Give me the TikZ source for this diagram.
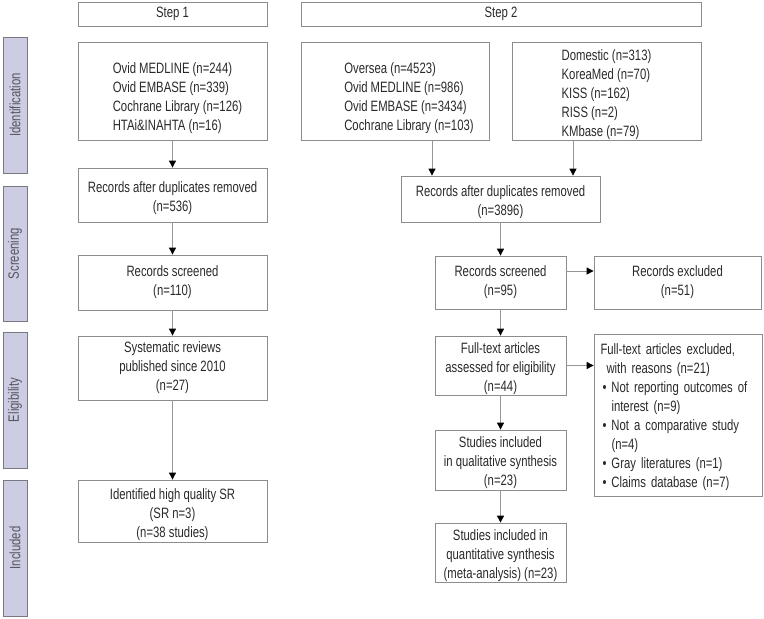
\documentclass[tikz,border=0pt]{standalone}
\usepackage{fontspec}
\setmainfont[FakeStretch=0.755]{Liberation Sans}
\usetikzlibrary{arrows.meta}
\definecolor{boxgray}{RGB}{140,140,140}
\definecolor{linegray}{RGB}{150,150,150}
\definecolor{txt}{RGB}{42,42,42}
\definecolor{sidefill}{RGB}{204,204,226}
\definecolor{sidegray}{RGB}{120,120,130}
\definecolor{sidetxt}{RGB}{85,85,95}
\tikzset{
  plain/.style={draw=boxgray, line width=0.8pt, fill=white, text=txt, align=center,
    inner sep=0pt, font=\fontsize{15}{19}\selectfont},
  box/.style={plain, execute at begin node={\rule{0pt}{15pt}}},
  side/.style={draw=sidegray, line width=0.8pt, fill=sidefill, text=sidetxt, rotate=90,
    minimum width=136, minimum height=24, inner sep=0pt, font=\fontsize{15}{19}\selectfont},
  arr/.style={draw=linegray, line width=0.9pt, -{Triangle[length=7pt,width=7pt,color=black]}}
}
\begin{document}
\begin{tikzpicture}[x=1pt,y=-1pt]
\useasboundingbox (0,0) rectangle (764,619);
% headers
\node[plain, minimum width=189, minimum height=24] (st1) at (172.5,14) {Step 1};
\node[plain, minimum width=400, minimum height=24] (st2) at (501,14) {Step 2};
% sidebars
\node[side] (sid) at (15,105) {Identification};
\node[side, minimum width=135] (sscr) at (15,253.5) {Screening};
\node[side] (selig) at (15,400) {Eligibility};
\node[side] (sinc) at (15,548) {Included};
% step 1
\node[box, align=left, minimum width=189, minimum height=98] (a1) at (172.5,91)
  {\rule{0pt}{25pt}\hspace*{10pt}Ovid MEDLINE (n=244)\\\hspace*{10pt}Ovid EMBASE (n=339)\\\hspace*{10pt}Cochrane Library (n=126)\\\hspace*{10pt}HTAi\&INAHTA (n=16)};
\node[box, minimum width=189, minimum height=54] (a2) at (172.5,195)
  {\rule{0pt}{18pt}Records after duplicates removed\\(n=536)};
\node[box, minimum width=189, minimum height=55] (a3) at (172.5,282.5)
  {Records screened\\(n=110)};
\node[box, minimum width=189, minimum height=64] (a4) at (172.5,368)
  {Systematic reviews\\published since 2010\\(n=27)};
\node[box, minimum width=189, minimum height=62] (a5) at (172.5,511)
  {\rule{0pt}{18pt}Identified high quality SR\\(SR n=3)\\(n=38 studies)};
\draw[arr] (a1) -- (a2);
\draw[arr] (a2) -- (a3);
\draw[arr] (a3) -- (a4);
\draw[arr] (a4) -- (a5);
% step 2
\node[box, align=left, minimum width=188, minimum height=98] (b1) at (395,91)
  {\rule{0pt}{25pt}\hspace*{28pt}Oversea (n=4523)\\\hspace*{28pt}Ovid MEDLINE (n=986)\\\hspace*{28pt}Ovid EMBASE (n=3434)\\\hspace*{28pt}Cochrane Library (n=103)};
\node[box, align=left, minimum width=189, minimum height=98] (b2) at (606.5,91)
  {\rule{0pt}{18pt}Domestic (n=313)\\KoreaMed (n=70)\\KISS (n=162)\\RISS (n=2)\\KMbase (n=79)\hspace*{8pt}};
\node[box, minimum width=199, minimum height=46] (b3) at (500.5,199)
  {\rule{0pt}{18pt}Records after duplicates removed\\(n=3896)};
\node[box, minimum width=131, minimum height=53] (b4) at (500.5,282.5)
  {Records screened\\(n=95)};
\node[box, minimum width=167, minimum height=53] (b5) at (677.5,282.5)
  {Records excluded\\(n=51)};
\node[box, minimum width=131, minimum height=59] (b6) at (500.5,365.5)
  {\rule{0pt}{17pt}Full-text articles\\assessed for eligibility\\(n=44)};
\node[box, text width=155, inner xsep=6.5pt, minimum height=162, align=left] (b7) at (678,415)
  {Full-text articles excluded,\\
   \hspace*{6pt}with reasons (n=21)\\
   \hspace*{2pt}\makebox[9pt][l]{\textbullet}Not reporting outcomes of\\
   \hspace*{11pt}interest (n=9)\\
   \hspace*{2pt}\makebox[9pt][l]{\textbullet}Not a comparative study\\
   \hspace*{11pt}(n=4)\\
   \hspace*{2pt}\makebox[9pt][l]{\textbullet}Gray literatures (n=1)\\
   \hspace*{2pt}\makebox[9pt][l]{\textbullet}Claims database (n=7)};
\node[box, minimum width=131, minimum height=60] (b8) at (500.5,460)
  {\rule{0pt}{17pt}Studies included\\in qualitative synthesis\\(n=23)};
\node[box, minimum width=131, minimum height=59] (b9) at (500.5,552.5)
  {\rule{0pt}{17pt}Studies included in\\quantitative synthesis\\(meta-analysis) (n=23)};
\coordinate (xo) at (432,0);
\coordinate (xd) at (573,0);
\coordinate (yr) at (0,271);
\draw[arr] (b1.south -| xo) -- (b3.north -| xo);
\draw[arr] (b2.south -| xd) -- (b3.north -| xd);
\draw[arr] (b3) -- (b4);
\draw[arr] (b4.east |- yr) -- (b5.west |- yr);
\draw[arr] (b4) -- (b6);
\draw[arr] (b6) -- (b7.west |- b6);
\draw[arr] (b6) -- (b8);
\draw[arr] (b8) -- (b9);
\end{tikzpicture}
\end{document}
